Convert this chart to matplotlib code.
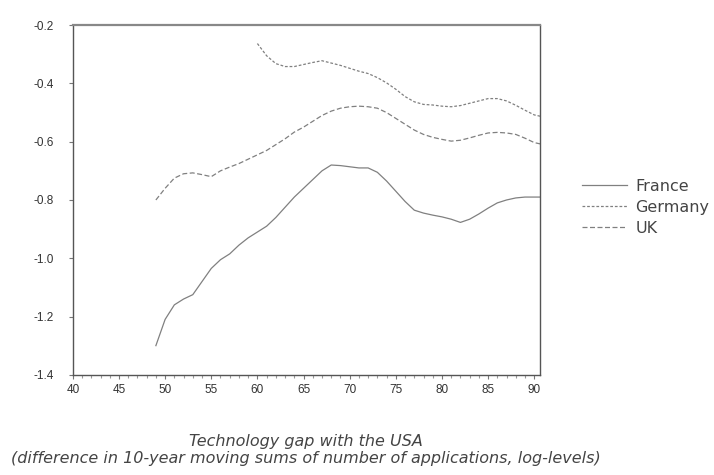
import numpy as np
import matplotlib.pyplot as plt

plt.rcParams['font.family'] = ['Liberation Sans', 'DejaVu Sans']

france_years = [49, 50, 51, 52, 53, 54, 55, 56, 57, 58, 59, 60, 61, 62, 63, 64, 65,
                66, 67, 68, 69, 70, 71, 72, 73, 74, 75, 76, 77, 78, 79, 80, 81, 82,
                83, 84, 85, 86, 87, 88, 89, 90, 91]
france = [-1.30, -1.21, -1.16, -1.14, -1.125, -1.08, -1.035, -1.005, -0.985, -0.955,
          -0.93, -0.91, -0.89, -0.86, -0.825, -0.79, -0.76, -0.73, -0.70, -0.68,
          -0.682, -0.686, -0.69, -0.69, -0.705, -0.735, -0.77, -0.805, -0.835, -0.845,
          -0.852, -0.858, -0.866, -0.877, -0.866, -0.848, -0.828, -0.81, -0.80,
          -0.793, -0.79, -0.79, -0.79]

uk_years = [49, 50, 51, 52, 53, 54, 55, 56, 57, 58, 59, 60, 61, 62, 63, 64, 65,
            66, 67, 68, 69, 70, 71, 72, 73, 74, 75, 76, 77, 78, 79, 80, 81, 82,
            83, 84, 85, 86, 87, 88, 89, 90, 91]
uk = [-0.80, -0.76, -0.725, -0.71, -0.707, -0.713, -0.72, -0.70, -0.687, -0.675,
      -0.66, -0.645, -0.63, -0.61, -0.59, -0.567, -0.55, -0.53, -0.51, -0.495,
      -0.485, -0.48, -0.478, -0.48, -0.485, -0.50, -0.52, -0.54, -0.56, -0.575,
      -0.585, -0.592, -0.598, -0.595, -0.587, -0.578, -0.57, -0.568, -0.57,
      -0.575, -0.588, -0.603, -0.61]

germany_years = [60, 61, 62, 63, 64, 65, 66, 67, 68, 69, 70, 71, 72, 73, 74, 75,
                 76, 77, 78, 79, 80, 81, 82, 83, 84, 85, 86, 87, 88, 89, 90, 91]
germany = [-0.263, -0.305, -0.332, -0.342, -0.342, -0.335, -0.328, -0.322, -0.33,
           -0.338, -0.348, -0.358, -0.366, -0.38, -0.398, -0.42, -0.445, -0.463,
           -0.472, -0.474, -0.478, -0.48, -0.476, -0.468, -0.46, -0.452, -0.452,
           -0.46, -0.475, -0.492, -0.508, -0.515]

fig = plt.figure(figsize=(7.14, 4.75), dpi=100)
ax = fig.add_axes([0.102, 0.211, 0.654, 0.736])

line_col = '#808080'
ax.plot(france_years, france, color=line_col, linewidth=0.9, label='France')
ax.plot(germany_years, germany, color=line_col, linewidth=0.9,
        linestyle=(0, (2.2, 1.5)), label='Germany')
ax.plot(uk_years, uk, color=line_col, linewidth=0.9,
        linestyle=(0, (4, 2)), label='UK')

ax.set_xlim(40, 90.6)
ax.set_ylim(-1.4, -0.2)
ax.set_xticks(np.arange(40, 91, 5))
ax.set_xticks(np.arange(40, 91, 1), minor=True)
ax.set_yticks(np.arange(-1.4, -0.19, 0.2))
ax.set_yticklabels(['-1.4', '-1.2', '-1.0', '-0.8', '-0.6', '-0.4', '-0.2'])

for s in ax.spines.values():
    s.set_color('#555555')
    s.set_linewidth(1.0)
ax.spines['top'].set_linewidth(1.6)
ax.spines['top'].set_color('#888888')

ax.tick_params(axis='both', which='major', direction='out', length=3, width=0.8,
               color='#777777', labelsize=8.5, labelcolor='#333333', pad=4)
ax.tick_params(axis='x', which='minor', direction='out', length=2.5, width=0.8,
               color='#999999')
ax.tick_params(axis='y', which='major', pad=11)

leg = ax.legend(loc='center left', bbox_to_anchor=(1.09, 0.479), frameon=False,
                prop={'family': 'DejaVu Sans', 'size': 11.5},
                handlelength=2.8, handletextpad=0.55, labelspacing=0.38,
                borderpad=0, borderaxespad=0)
for t in leg.get_texts():
    t.set_color('#444444')

fig.text(0.429, 0.061, 'Technology gap with the USA', ha='center', va='baseline',
         family='DejaVu Sans', fontsize=11.5, style='italic', color='#444444')
fig.text(0.429, 0.025,
         '(difference in 10-year moving sums of number of applications, log-levels)',
         ha='center', va='baseline', family='DejaVu Sans', fontsize=11.5,
         style='italic', color='#444444')

fig.savefig('out.png', dpi=100, facecolor='white')
